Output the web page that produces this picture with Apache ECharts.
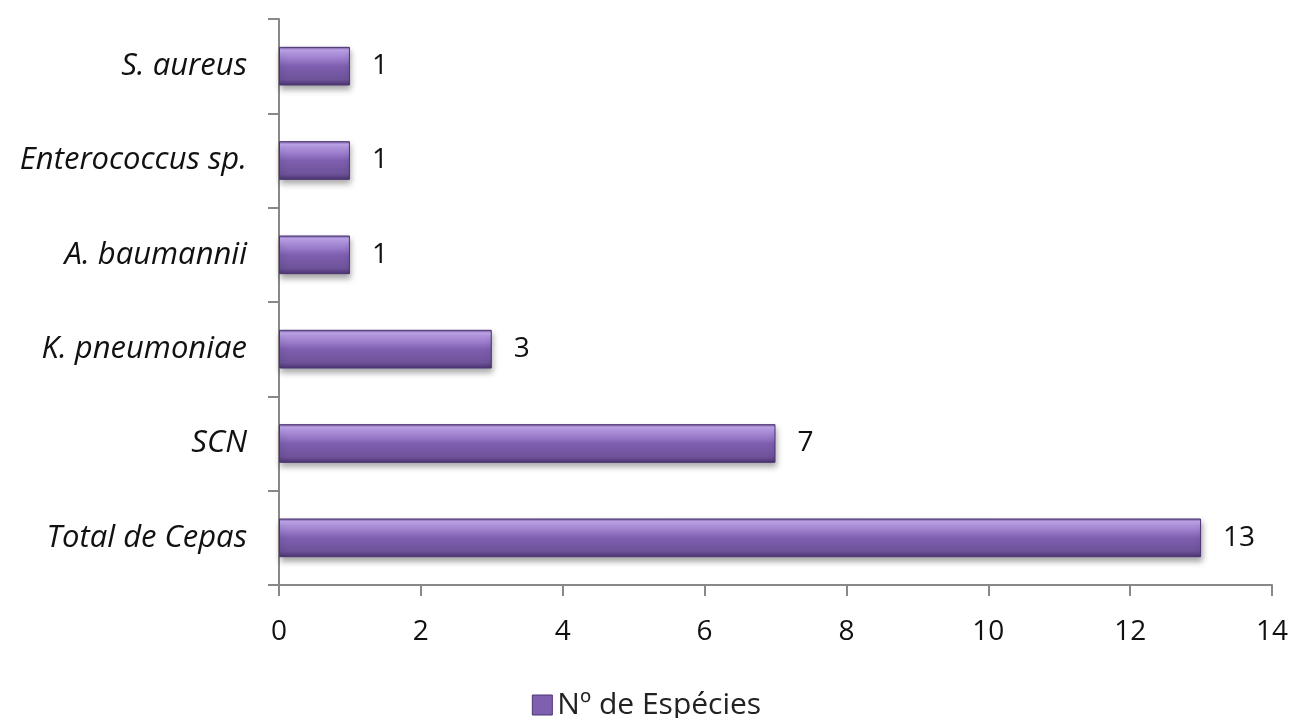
<!DOCTYPE html>
<html>
<head>
<meta charset="utf-8">
<script src="https://cdn.jsdelivr.net/npm/echarts@6/dist/echarts.min.js"></script>
<style>
html,body{margin:0;padding:0;background:#fff;}
#c{width:1293px;height:718px;}
</style>
</head>
<body>
<div id="c"></div>
<script>
const categories = ["Total de Cepas", "SCN", "K. pneumoniae", "A. baumannii", "Enterococcus sp.", "S. aureus"];
const values = [13, 7, 3, 1, 1, 1];
const seriesName = "Nº de Espécies";

const chart = echarts.init(document.getElementById('c'));
const barColor = {
  type: 'linear', x: 0, y: 0, x2: 0, y2: 1,
  colorStops: [
    {offset: 0, color: '#6a4d95'},
    {offset: 0.08, color: '#c2a8ee'},
    {offset: 0.25, color: '#a688d6'},
    {offset: 0.5, color: '#7e5fb0'},
    {offset: 0.85, color: '#6e5299'},
    {offset: 1, color: '#4a3370'}
  ]
};
chart.setOption({
  backgroundColor: '#ffffff',
  animation: false,
  grid: {left: 279, right: 21, top: 19, bottom: 133},
  legend: {
    top: 685,
    left: 'center',
    itemWidth: 20, itemHeight: 20, itemGap: 11,
    icon: 'rect',
    itemStyle: {color: '#7e5fb0', borderColor: '#4b3472', borderWidth: 1},
    textStyle: {fontFamily: 'Open Sans', fontSize: 30, color: '#222'},
    data: [seriesName]
  },
  xAxis: {
    type: 'value', min: 0, max: 14, interval: 2,
    axisLine: {show: true, lineStyle: {color: '#888', width: 2}},
    axisTick: {show: true, length: 11, lineStyle: {color: '#888', width: 2}},
    splitLine: {show: false},
    axisLabel: {fontFamily: 'Open Sans', fontSize: 28, color: '#111', margin: 33}
  },
  yAxis: {
    type: 'category', data: categories,
    axisLine: {show: true, lineStyle: {color: '#888', width: 2}},
    axisTick: {show: true, length: 11, inside: false, lineStyle: {color: '#888', width: 2}},
    axisLabel: {fontFamily: 'Open Sans', fontStyle: 'italic', fontSize: 31, color: '#111', margin: 32}
  },
  series: [{
    name: seriesName,
    type: 'bar',
    data: values,
    barWidth: '41%',
    itemStyle: {
      color: barColor,
      borderColor: '#4b3472', borderWidth: 1,
      shadowColor: 'rgba(0,0,0,0.35)', shadowBlur: 6, shadowOffsetY: 4, shadowOffsetX: 1
    },
    label: {
      show: true, position: 'right', distance: 22,
      fontFamily: 'Open Sans', fontSize: 28, color: '#111'
    }
  }]
});
</script>
</body>
</html>
